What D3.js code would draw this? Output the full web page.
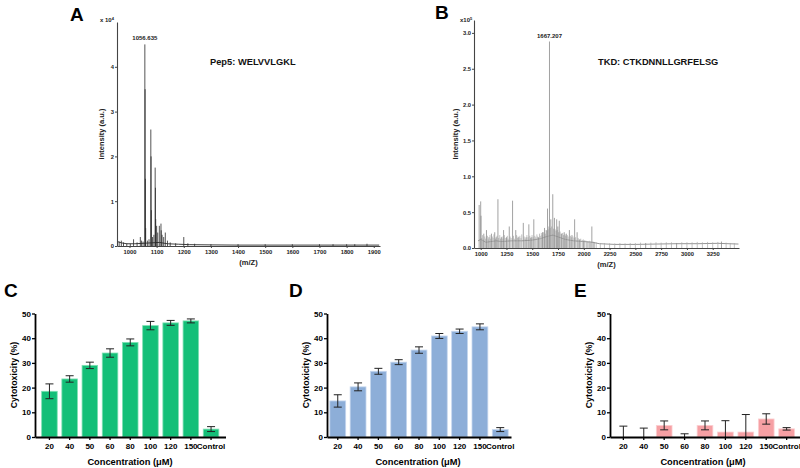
<!DOCTYPE html>
<html><head><meta charset="utf-8">
<script src="https://cdn.jsdelivr.net/npm/d3@7"></script>
<style>
body{margin:0;background:#fff}
svg{display:block}
text{font-family:"Liberation Sans",Arial,Helvetica,sans-serif}
</style>
</head><body>
<svg id="chart" width="800" height="468"></svg>
<script>
// ---------------- DATA ----------------
// Panel A: Pep5 MALDI spectrum (intensity x 10^4)
const pep5TickX = [1000,1100,1200,1300,1400,1500,1600,1700,1800,1900];
const pep5TickY = [0,1,2,3,4];
const pep5Peaks = [
  [962,0.10],[970,0.12],[978,0.08],[990,0.06],[1003,0.05],[1015,0.15],[1028,0.08],
  [1040,0.20],[1044,0.12],[1050,0.10],[1056.6,4.50],[1057.6,3.50],[1058.6,1.50],[1059.6,0.40],
  [1066,0.12],[1072,0.15],[1078.6,2.60],[1079.6,2.00],[1080.6,0.80],[1085,0.20],[1090,0.25],
  [1094.6,1.75],[1095.6,1.30],[1096.6,0.60],[1100,0.45],[1104,0.30],[1110,0.45],[1116,0.50],
  [1117,0.35],[1120,0.25],[1126,0.20],[1132,0.30],[1140,0.12],[1150,0.08],[1170,0.06],
  [1200,0.20],[1215,0.06],[1240,0.05],[1300,0.04],[1400,0.04],[1500,0.04],[1600,0.04],
  [1700,0.04],[1750,0.04],[1800,0.04],[1830,0.04],[1875,0.05]
];
const pep5Baseline = [
  [955,0.10],[970,0.07],[990,0.05],[1020,0.05],[1050,0.06],[1080,0.07],[1110,0.08],[1140,0.05],
  [1180,0.04],[1220,0.03],[1300,0.025],[1400,0.02],[1500,0.02],[1600,0.02],[1700,0.02],[1800,0.02],[1920,0.02]
];
// Panel B: TKD MALDI spectrum (intensity x 10^5)
const tkdTickX = [1000,1250,1500,1750,2000,2250,2500,2750,3000,3250];
const tkdTickY = [0,0.5,1.0,1.5,2.0,2.5,3.0];
const tkdPeaks = [
  [985,0.60],[1000,0.65],[1003,0.45],[1030,0.20],[1056,0.25],[1080,0.15],[1104,0.20],[1136,0.22],
  [1150,0.15],[1167,0.68],[1200,0.15],[1222,0.25],[1250,0.15],[1277,0.30],[1309,0.66],[1340,0.25],
  [1370,0.15],[1413,0.35],[1440,0.15],[1467,0.33],[1490,0.15],[1515,0.40],[1560,0.15],[1600,0.22],
  [1619,0.28],[1635,0.25],[1648,0.55],[1667.2,2.88],[1680,0.40],[1699,0.75],[1715,0.42],[1737,0.40],
  [1748,0.30],[1762,0.38],[1785,0.20],[1810,0.22],[1830,0.20],[1860,0.25],[1885,0.18],[1911,0.40],
  [1935,0.22],[1960,0.12],[2000,0.10],[2040,0.09],[2078,0.30],[2100,0.08],[2600,0.07],[2900,0.07],[3335,0.09]
];
const tkdNoise = [
  [1010,0.14],[1018,0.18],[1024,0.12],[1040,0.16],[1048,0.13],[1065,0.17],[1072,0.12],[1090,0.18],
  [1096,0.13],[1112,0.16],[1120,0.14],[1128,0.19],[1143,0.13],[1158,0.17],[1175,0.14],[1185,0.18],
  [1192,0.13],[1208,0.16],[1215,0.13],[1230,0.18],[1238,0.14],[1258,0.17],[1265,0.13],[1285,0.16],
  [1295,0.14],[1318,0.17],[1326,0.13],[1348,0.18],[1356,0.14],[1362,0.16],[1380,0.17],[1390,0.14],
  [1398,0.19],[1422,0.16],[1430,0.13],[1448,0.18],[1458,0.15],[1476,0.17],[1483,0.14],[1498,0.18],
  [1506,0.15],[1525,0.17],[1534,0.15],[1545,0.19],[1552,0.16],[1570,0.20],[1578,0.17],[1588,0.21],
  [1594,0.18],[1608,0.22],[1626,0.20],[1642,0.24],[1655,0.26],[1660,0.30],[1674,0.28],[1688,0.30],
  [1706,0.27],[1722,0.26],[1730,0.24],[1742,0.25],[1755,0.22],[1770,0.23],[1778,0.20],[1795,0.21],
  [1803,0.18],[1818,0.19],[1824,0.17],[1840,0.18],[1848,0.16],[1870,0.17],[1878,0.15],[1895,0.16],
  [1905,0.14],[1920,0.15],[1945,0.14],[1952,0.12],[1970,0.13],[1985,0.11],[1995,0.12],[2010,0.11],
  [2025,0.10],[2055,0.10],[2065,0.09],[2090,0.09],[2120,0.08],[2160,0.07],[2200,0.07],[2250,0.065],
  [2300,0.065],[2350,0.07],[2400,0.065],[2450,0.07],[2500,0.07],[2550,0.075],[2650,0.075],[2700,0.08],
  [2750,0.075],[2800,0.08],[2850,0.08],[2950,0.08],[3000,0.08],[3050,0.08],[3100,0.085],[3150,0.08],
  [3200,0.085],[3250,0.08],[3300,0.085],[3380,0.075],[3420,0.07],[3460,0.07]
];
const tkdBaseline = [
  [975,0.10],[1000,0.12],[1050,0.08],[1100,0.09],[1150,0.10],[1200,0.09],[1300,0.10],[1400,0.10],
  [1500,0.11],[1580,0.13],[1640,0.16],[1700,0.18],[1760,0.15],[1820,0.12],[1900,0.10],[2000,0.09],
  [2080,0.08],[2150,0.06],[2300,0.05],[2500,0.05],[2700,0.055],[2900,0.06],[3100,0.06],[3300,0.065],[3500,0.055]
];
// Panels C-E: cytotoxicity bar charts
const concentrations = ["20","40","50","60","80","100","120","150","Control"];
const cytoTickY = [0,10,20,30,40,50];
const cytoPep5 = [18.5,23.5,29.0,34.0,38.3,45.1,46.2,47.0,3.2];
const errPep5  = [3.0,1.3,1.3,1.7,1.4,1.7,1.0,0.8,1.0];
const cytoTKD  = [14.6,20.3,26.6,30.3,35.2,40.9,42.8,44.6,3.0];
const errTKD   = [2.5,1.6,1.2,1.0,1.3,1.0,0.9,1.2,0.8];
const cytoCtrl = [0,0,4.7,0,4.7,2.0,2.0,7.3,3.3];
const errCtrl  = [4.4,3.6,1.8,1.3,1.8,4.6,7.1,2.1,0.5];

// ---------------- DRAW ----------------
const svg = d3.select("#chart");

function panelLetter(t, x, y){
  svg.append("text").attr("x",x).attr("y",y).attr("font-size",19).attr("font-weight","bold").attr("fill","#000").text(t);
}

function spectrum(o){
  const g = svg.append("g");
  const x = d3.scaleLinear().domain(o.xDomain).range([o.x0,o.x1]);
  const y = d3.scaleLinear().domain(o.yDomain).range([o.y0,o.y1]);
  const line = d3.line().x(d=>x(d[0])).y(d=>y(d[1]));
  g.append("path").datum(o.baseline).attr("d",line).attr("fill","none").attr("stroke",o.color).attr("stroke-width",0.9);
  g.selectAll("path.nz").data(o.noise||[]).join("path").attr("class","nz")
    .attr("d",d=>line([[d[0],0],[d[0],d[1]]]))
    .attr("stroke",o.noiseColor||o.color).attr("stroke-width",0.7).attr("fill","none");
  g.selectAll("path.pk").data(o.peaks).join("path").attr("class","pk")
    .attr("d",d=>line([[d[0],0],[d[0],d[1]]]))
    .attr("stroke",o.color).attr("stroke-width",0.8).attr("fill","none");
  const ax = g.append("g").attr("transform",`translate(0,${o.y0})`)
    .call(d3.axisBottom(x).tickValues(o.xTicks).tickSize(2).tickSizeOuter(0).tickFormat(d3.format("d")));
  const ay = g.append("g").attr("transform",`translate(${o.x0},0)`)
    .call(d3.axisLeft(y).tickValues(o.yTicks).tickSize(2).tickSizeOuter(0).tickFormat(d3.format(o.yFmt)));
  [ax,ay].forEach(a=>{
    a.select(".domain").attr("stroke","#444").attr("stroke-width",1.1);
    a.selectAll(".tick line").attr("stroke","#444");
    a.selectAll("text").attr("font-size",o.tickFont).attr("font-weight","bold").attr("fill","#222")
      .style("font-family",'"Liberation Sans",Arial,sans-serif');
  });
  ax.selectAll("text").attr("dy","0.75em").attr("y",4);
  ay.selectAll("text").attr("x",-3);
  g.append("text").attr("x",o.multX).attr("y",o.multY).attr("font-size",6).attr("fill","#222").attr("font-weight","bold")
    .text(o.mult[0]).append("tspan").attr("dy",-2.5).attr("font-size",4).text(o.mult[1]);
  g.append("text").attr("transform",`translate(${o.ylabX},${(o.y0+o.y1)/2}) rotate(-90)`)
    .attr("text-anchor","middle").attr("font-size",7.5).attr("font-weight","bold").attr("fill","#222").text(o.ylab);
  g.append("text").attr("x",(o.x0+o.x1)/2).attr("y",o.y0+19).attr("text-anchor","middle")
    .attr("font-size",7.5).attr("font-weight","bold").attr("fill","#222").text("(m/Z)");
  g.append("text").attr("x",x(o.peakLabel[0])).attr("y",y(o.peakLabel[1])-4).attr("text-anchor","middle")
    .attr("font-size",6).attr("font-weight","bold").attr("fill","#222").text(o.peakLabel[2]);
  g.append("text").attr("x",o.titleX).attr("y",o.titleY).attr("font-size",9.3).attr("font-weight","bold").attr("fill","#111").text(o.title);
}

function bars(o){
  const g = svg.append("g");
  const x = d3.scaleBand().domain(concentrations).range([o.x0,o.x1]).paddingInner(o.pi).paddingOuter(o.po);
  const y = d3.scaleLinear().domain([0,50]).range([437,313.5]);
  g.selectAll("rect").data(o.values).join("rect")
    .attr("x",(d,i)=>x(concentrations[i])).attr("width",x.bandwidth())
    .attr("y",d=>y(d)).attr("height",d=>y(0)-y(d))
    .attr("fill",o.color).attr("stroke",o.edge).attr("stroke-width",0.8);
  const eb = g.selectAll("g.eb").data(o.values.map((v,i)=>({v,e:o.errs[i],c:concentrations[i]}))).join("g").attr("class","eb");
  const cx = d=>x(d.c)+x.bandwidth()/2;
  eb.append("line").attr("x1",cx).attr("x2",cx).attr("y1",d=>y(Math.max(0,d.v-d.e))).attr("y2",d=>y(d.v+d.e))
    .attr("stroke","#222").attr("stroke-width",1);
  eb.append("line").attr("x1",d=>cx(d)-4).attr("x2",d=>cx(d)+4).attr("y1",d=>y(d.v+d.e)).attr("y2",d=>y(d.v+d.e))
    .attr("stroke","#222").attr("stroke-width",1);
  eb.filter(d=>d.v-d.e>0).append("line").attr("x1",d=>cx(d)-4).attr("x2",d=>cx(d)+4)
    .attr("y1",d=>y(d.v-d.e)).attr("y2",d=>y(d.v-d.e)).attr("stroke","#222").attr("stroke-width",1);
  const ax = g.append("g").attr("transform","translate(0,437)")
    .call(d3.axisBottom(x).tickSize(3).tickSizeOuter(0));
  const ay = g.append("g").attr("transform",`translate(${o.x0},0)`)
    .call(d3.axisLeft(y).tickValues(cytoTickY).tickSize(3).tickSizeOuter(0));
  [ax,ay].forEach(a=>{
    a.select(".domain").attr("stroke","#000").attr("stroke-width",1.8);
    a.selectAll(".tick line").attr("stroke","#000").attr("stroke-width",1.3);
    a.selectAll("text").attr("font-size",8).attr("font-weight","bold").attr("fill","#000")
      .style("font-family",'"Liberation Sans",Arial,sans-serif');
  });
  ax.selectAll("text").attr("y",6);
  ay.selectAll("text").attr("x",-4);
  g.append("text").attr("transform",`translate(${o.x0-18},375) rotate(-90)`)
    .attr("text-anchor","middle").attr("font-size",8.8).attr("font-weight","bold").attr("fill","#000").text("Cytotoxicity (%)");
  g.append("text").attr("x",o.xlabX).attr("y",465).attr("text-anchor","middle")
    .attr("font-size",9.3).attr("font-weight","bold").attr("fill","#000").text("Concentration (\u03bcM)");
}

panelLetter("A",70,21);
panelLetter("B",435,19);
panelLetter("C",4,297);
panelLetter("D",289,297);
panelLetter("E",574,297);

spectrum({xDomain:[954,1923], x0:117, x1:380, yDomain:[0,5], y0:246, y1:22,
  xTicks:pep5TickX, yTicks:pep5TickY, yFmt:"d", peaks:pep5Peaks, baseline:pep5Baseline,
  color:"#2a2a2a", tickFont:5.8, mult:["x 10","4"], multX:100, multY:22, ylab:"intensity (a.u.)", ylabX:104,
  peakLabel:[1056.6,4.5,"1056.635"], title:"Pep5: WELVVLGKL", titleX:210, titleY:65});

spectrum({xDomain:[935,3505], x0:474, x1:739, yDomain:[0,3.18], y0:248, y1:20,
  xTicks:tkdTickX, yTicks:tkdTickY, yFmt:".1f", peaks:tkdPeaks, baseline:tkdBaseline,
  noise:tkdNoise, noiseColor:"#a8a8a8",
  color:"#8a8a8a", tickFont:5.8, mult:["x10","5"], multX:460, multY:22, ylab:"Intensity (a.u.)", ylabX:458,
  peakLabel:[1667.2,2.88,"1667.207"], title:"TKD: CTKDNNLLGRFELSG", titleX:598, titleY:65});

bars({x0:35, x1:225.5, pi:0.23, po:0.33, values:cytoPep5, errs:errPep5, color:"#14BF78", edge:"#7fe0b3", xlabX:130});
bars({x0:327, x1:511, pi:0.22, po:0.14, values:cytoTKD, errs:errTKD, color:"#8DAED8", edge:"#c5d6ee", xlabX:418});
bars({x0:610, x1:800, pi:0.23, po:0.27, values:cytoCtrl, errs:errCtrl, color:"#F6A0A4", edge:"#fbd0d2", xlabX:703});
</script>
</body></html>
